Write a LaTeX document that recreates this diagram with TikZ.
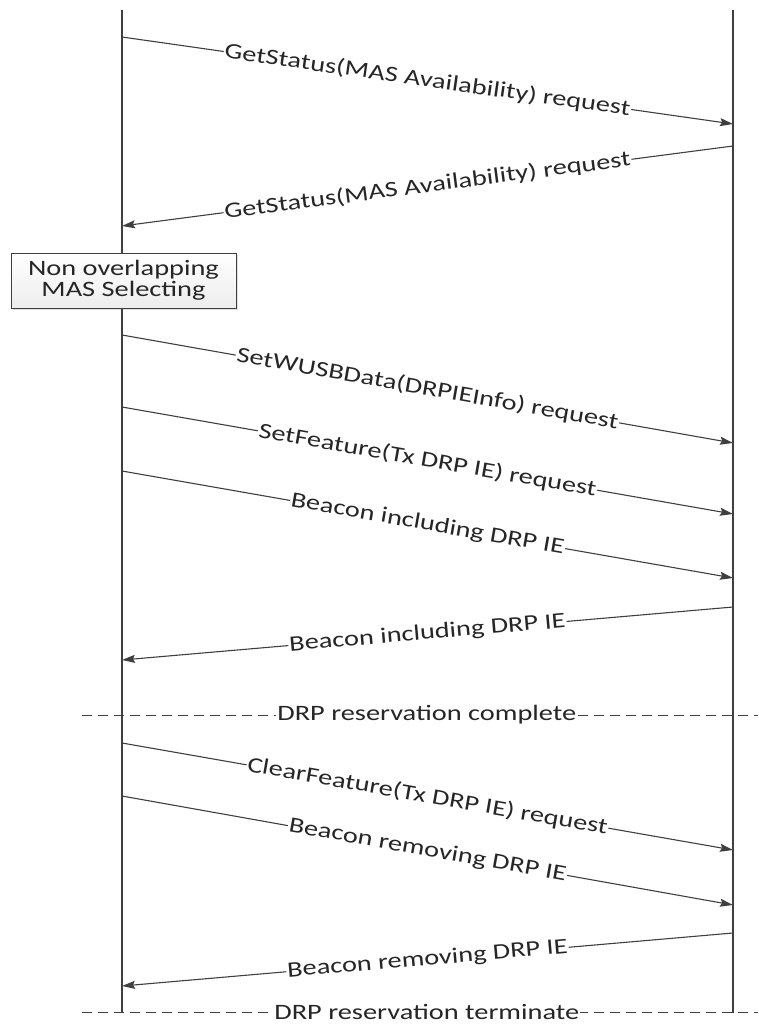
\documentclass[tikz,border=0pt]{standalone}
\usepackage{fontspec}
\setmainfont{Carlito}
\usepackage{tikz}
\usetikzlibrary{arrows.meta, positioning, shadows}
\definecolor{linegray}{HTML}{3F3F3F}
\definecolor{textgray}{HTML}{262626}
\newcommand{\wide}[1]{\scalebox{1.29}[1]{#1}}
\tikzset{
    lifeline/.style={draw=linegray, line width=1.6pt},
    msg/.style={color=linegray, line width=1.1pt, -{Stealth[length=13pt,width=8pt,inset=2pt]}},
    msglabel/.style={midway, sloped, fill=white, inner sep=1pt, text=textgray,
        font=\fontsize{22}{21}\selectfont},
    phase/.style={draw=linegray, line width=1pt, dash pattern=on 10pt off 6pt},
    notebox/.style={draw=linegray, line width=1pt, top color=white, bottom color=gray!14,
        drop shadow={opacity=0.25, shadow xshift=2pt, shadow yshift=-2pt},
        align=center, minimum width=225pt, minimum height=55pt, inner sep=0pt,
        text=textgray, font=\fontsize{22}{21}\selectfont}
}

\begin{document}
\begin{tikzpicture}[x=1pt, y=-1pt]
        \useasboundingbox (0,0) rectangle (758,1024);
        % lifelines
        \coordinate (host-top) at (122,10);
        \coordinate (host-bot) at (122,1013);
        \coordinate (dev-top) at (733,10);
        \coordinate (dev-bot) at (733,1013);
        \draw[lifeline] (host-top) -- (host-bot);
        \draw[lifeline] (dev-top) -- (dev-bot);

        % message end points
        \coordinate (h1) at (122,37);   \coordinate (d1) at (733,124);
        \coordinate (d2) at (733,146);  \coordinate (h2) at (122,226);
        \coordinate (h3) at (122,335);  \coordinate (d3) at (733,443);
        \coordinate (h4) at (122,407);  \coordinate (d4) at (733,514);
        \coordinate (h5) at (122,471);  \coordinate (d5) at (733,578);
        \coordinate (d6) at (733,607);  \coordinate (h6) at (122,660);
        \coordinate (h7) at (122,743);  \coordinate (d7) at (733,850);
        \coordinate (h8) at (122,796);  \coordinate (d8) at (733,905);
        \coordinate (d9) at (733,933);  \coordinate (h9) at (122,986);

        \node[notebox] (select) at (123.5,280.5) {\wide{Non overlapping}\\\wide{MAS Selecting}};

        \path[msg]
        (h1) edge node[msglabel] {\wide{GetStatus(MAS Availability) request}} (d1)
        (d2) edge node[msglabel] {\wide{GetStatus(MAS Availability) request}} (h2)
        (h3) edge node[msglabel] {\wide{SetWUSBData(DRPIEInfo) request}} (d3)
        (h4) edge node[msglabel] {\wide{SetFeature(Tx DRP IE) request}} (d4)
        (h5) edge node[msglabel] {\wide{Beacon including DRP IE}} (d5)
        (d6) edge node[msglabel] {\wide{Beacon including DRP IE}} (h6)
        (h7) edge node[msglabel] {\wide{ClearFeature(Tx DRP IE) request}} (d7)
        (h8) edge node[msglabel] {\wide{Beacon removing DRP IE}} (d8)
        (d9) edge node[msglabel] {\wide{Beacon removing DRP IE}} (h9);

        % phase separators
        \coordinate (done-l) at (82,715);   \coordinate (done-r) at (758,715);
        \coordinate (term-l) at (82,1012);  \coordinate (term-r) at (758,1012);
        \draw[phase] (done-l) -- node[msglabel, pos=0.51] (done) {\wide{DRP reservation complete}} (done-r);
        \draw[phase] (term-l) -- node[msglabel, pos=0.51] (term) {\wide{DRP reservation terminate}} (term-r);
    \end{tikzpicture}
\end{document}
